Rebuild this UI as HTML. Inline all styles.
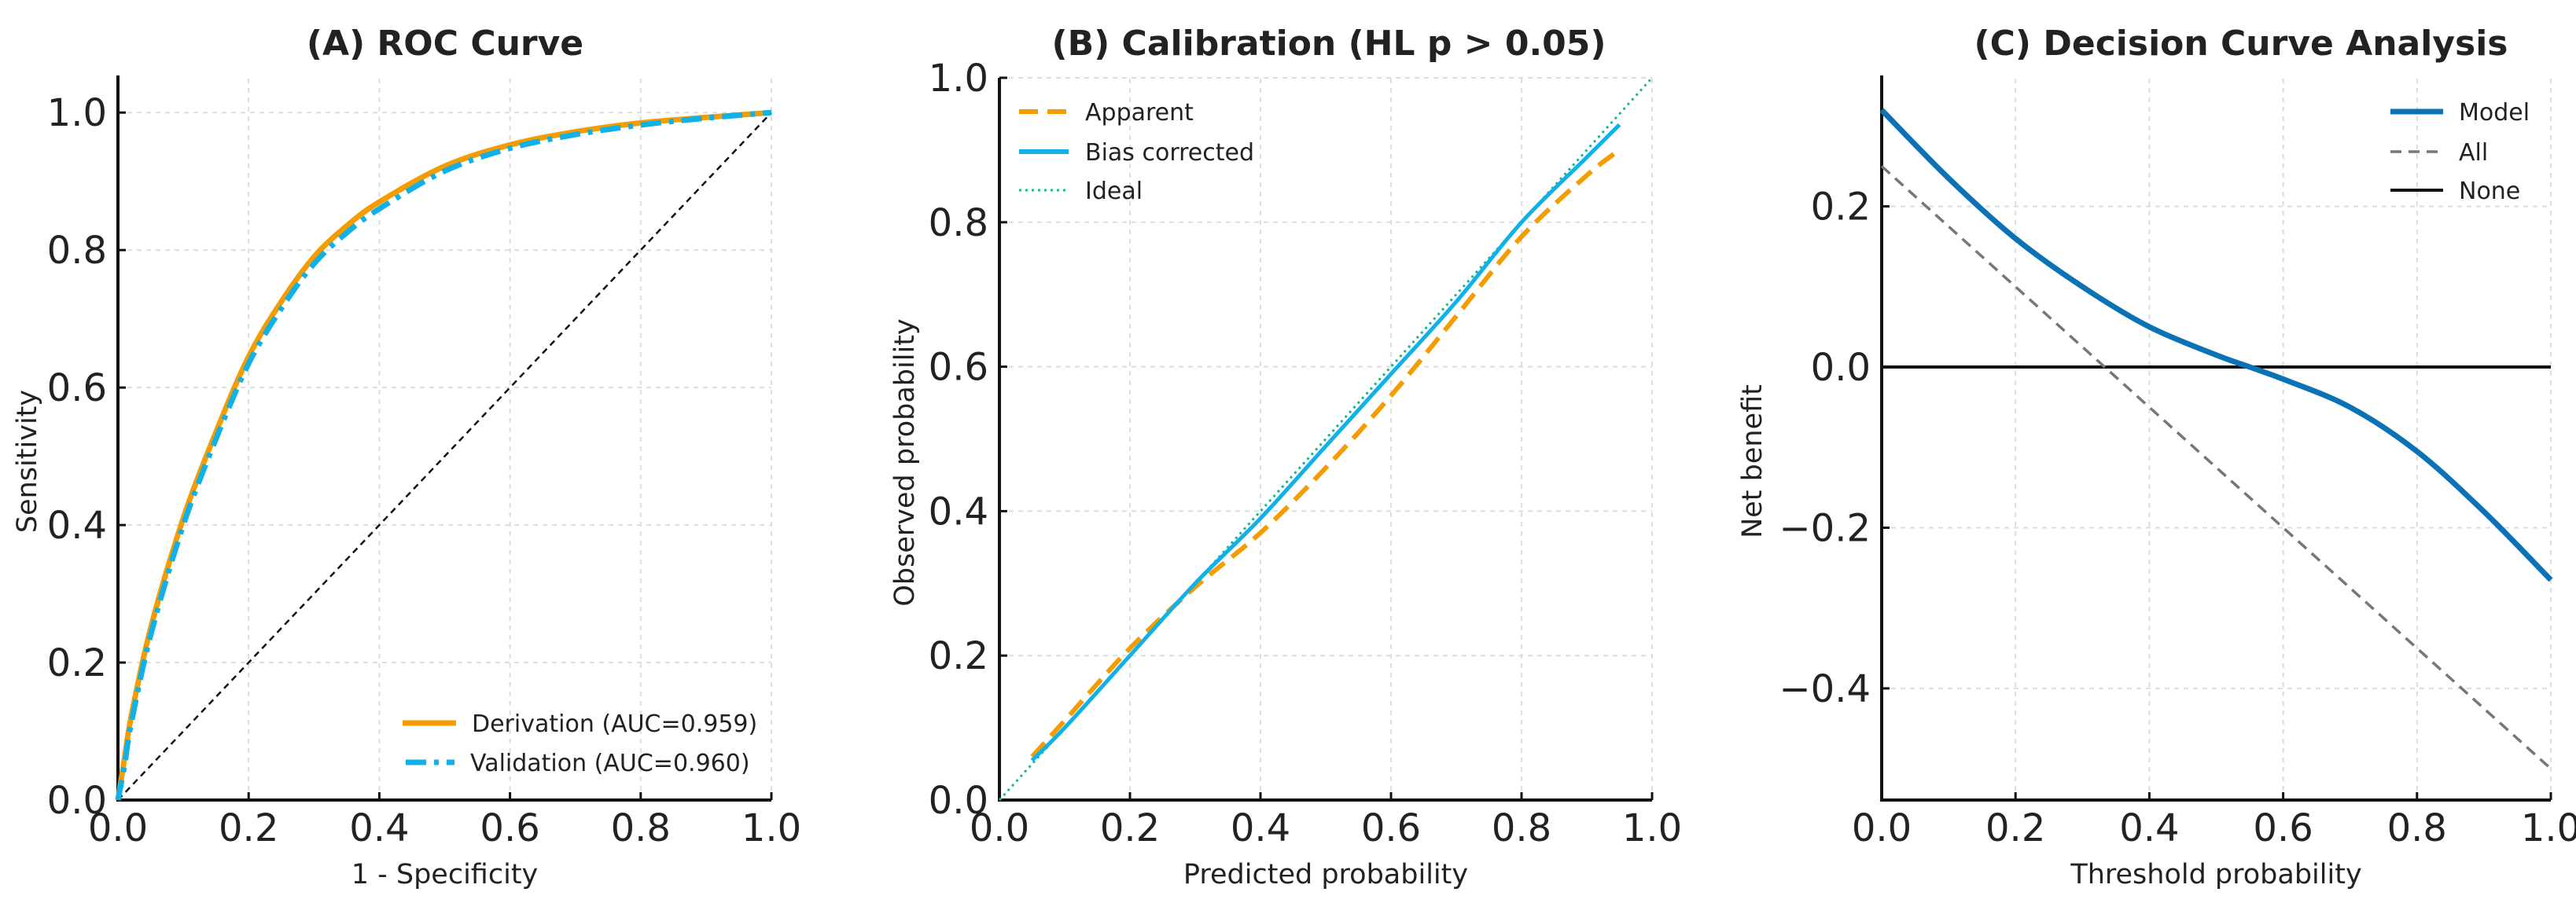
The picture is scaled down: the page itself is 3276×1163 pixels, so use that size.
<!DOCTYPE html>
<html><head><meta charset="utf-8"><style>
body{margin:0;background:#fff}
svg{display:block}
text{font-family:"DejaVu Sans","Liberation Sans",sans-serif;fill:#222}
</style></head><body>
<svg id="fig" width="3276" height="1163" viewBox="0 0 3276 1163"></svg>
<script>
// Panel A data
const rocFpr=[0,0.01,0.02,0.05,0.1,0.15,0.2,0.25,0.3,0.35,0.4,0.5,0.6,0.7,0.8,0.9,1];
const rocDeriv=[0,0.06,0.12,0.25,0.41,0.535,0.645,0.725,0.79,0.835,0.87,0.922,0.953,0.972,0.985,0.993,1];
const rocValid=[0,0.05,0.11,0.24,0.40,0.525,0.635,0.715,0.78,0.825,0.86,0.915,0.948,0.968,0.982,0.992,1];
const rocTicks=["0.0","0.2","0.4","0.6","0.8","1.0"];
// Panel B data
const calX=[0.05,0.1,0.2,0.3,0.4,0.5,0.6,0.7,0.8,0.9,0.95];
const calApparent=[0.06,0.11,0.21,0.295,0.37,0.46,0.56,0.67,0.78,0.865,0.90];
const calCorrected=[0.055,0.1,0.2,0.3,0.39,0.49,0.59,0.69,0.80,0.89,0.935];
// Panel C data
const dcaT=[0,0.1,0.2,0.3,0.4,0.5,0.55,0.6,0.7,0.8,0.9,1];
const dcaModel=[0.32,0.235,0.16,0.10,0.05,0.015,0,-0.015,-0.05,-0.105,-0.18,-0.265];
const dcaAll=[0.25,0.175,0.10,0.025,-0.05,-0.125,-0.1625,-0.20,-0.275,-0.35,-0.425,-0.50];
const dcaYTicks=[-0.4,-0.2,0.0,0.2];
const dcaYLabels=["\u22120.4","\u22120.2","0.0","0.2"];

const NS="http://www.w3.org/2000/svg";
const svg=document.getElementById('fig');
function mk(tag,attrs,parent,name){const e=document.createElementNS(NS,tag);for(const k in attrs)e.setAttribute(k,attrs[k]);


(parent||svg).appendChild(e);return e;}
function txt(s,attrs,name){const e=mk('text',attrs,svg,name);e.textContent=s;return e;}
function path(xs,ys,sx,sy){
  const P=xs.map((x,i)=>[sx(x),sy(ys[i])]);
  let d='M'+P[0][0].toFixed(1)+' '+P[0][1].toFixed(1);
  for(let i=0;i<P.length-1;i++){
    const p0=P[Math.max(i-1,0)],p1=P[i],p2=P[i+1],p3=P[Math.min(i+2,P.length-1)];
    const c1=[p1[0]+(p2[0]-p0[0])/6,p1[1]+(p2[1]-p0[1])/6];
    const c2=[p2[0]-(p3[0]-p1[0])/6,p2[1]-(p3[1]-p1[1])/6];
    d+=` C${c1[0].toFixed(1)} ${c1[1].toFixed(1)} ${c2[0].toFixed(1)} ${c2[1].toFixed(1)} ${p2[0].toFixed(1)} ${p2[1].toFixed(1)}`;
  }
  return d;
}

function axes(cfg){
  const sx=v=>cfg.x0+(v-cfg.xmin)/(cfg.xmax-cfg.xmin)*(cfg.x1-cfg.x0);
  const sy=v=>cfg.y0-(v-cfg.ymin)/(cfg.ymax-cfg.ymin)*(cfg.y0-cfg.y1);
  const gx=[0,0.2,0.4,0.6,0.8,1.0];
  gx.forEach((v,i)=>{
    mk('line',{x1:sx(v),x2:sx(v),y1:cfg.y0,y2:cfg.y1,stroke:'#ddd','stroke-width':2,'stroke-dasharray':'6 6'},svg,cfg.p+'-x-grid');
    mk('line',{x1:sx(v),x2:sx(v),y1:cfg.y0,y2:cfg.y0-10,stroke:'#111','stroke-width':3},svg,cfg.p+'-x-tick');
    txt(rocTicks[i],{x:sx(v),y:cfg.y0+52,'font-size':48,'text-anchor':'middle'},cfg.p+'-x-tick-label');
  });
  cfg.yt.forEach((v,i)=>{
    mk('line',{x1:cfg.x0,x2:cfg.x1,y1:sy(v),y2:sy(v),stroke:'#ddd','stroke-width':2,'stroke-dasharray':'6 6'},svg,cfg.p+'-y-grid');
    mk('line',{x1:cfg.x0,x2:cfg.x0+10,y1:sy(v),y2:sy(v),stroke:'#111','stroke-width':3},svg,cfg.p+'-y-tick');
    txt(cfg.yl[i],{x:cfg.x0-14,y:sy(v)+17,'font-size':48,'text-anchor':'end'},cfg.p+'-y-tick-label');
  });
  mk('line',{x1:cfg.x0,x2:cfg.x0,y1:cfg.y0+2,y2:cfg.y1,stroke:'#111','stroke-width':4},svg,cfg.p+'-y-axis');
  mk('line',{x1:cfg.x0-2,x2:cfg.x1,y1:cfg.y0,y2:cfg.y0,stroke:'#111','stroke-width':4},svg,cfg.p+'-x-axis');
  txt(cfg.title,{x:cfg.tx,y:70,'font-size':44,'font-weight':'bold','text-anchor':'middle'},cfg.p+'-title');
  txt(cfg.xlabel,{x:(cfg.x0+cfg.x1)/2,y:1124,'font-size':35,'text-anchor':'middle'},cfg.p+'-x-axis-title');
  txt(cfg.ylabel,{x:0,y:0,'font-size':35,'text-anchor':'middle',transform:`translate(${cfg.ylx},${(cfg.y0+cfg.y1)/2+30}) rotate(-90)`},cfg.p+'-y-axis-title');
  return {sx,sy};
}
const yt01=[0,0.2,0.4,0.6,0.8,1.0];
// Panel A
let A=axes({p:'roc',x0:150,x1:981,y0:1018,y1:96,xmin:0,xmax:1,ymin:0,ymax:1.054,yt:yt01,yl:rocTicks,title:'(A) ROC Curve',tx:566,xlabel:'1 - Specificity',ylabel:'Sensitivity',ylx:46});
mk('path',{d:`M${A.sx(0)} ${A.sy(0)} L${A.sx(1)} ${A.sy(1)}`,stroke:'#111','stroke-width':2.5,'stroke-dasharray':'8 6',fill:'none'},svg,'roc-chance-line');
mk('path',{d:path(rocFpr,rocDeriv,A.sx,A.sy),stroke:'#f59d00','stroke-width':7,fill:'none','stroke-linejoin':'round'},svg,'roc-derivation-line');
mk('path',{d:path(rocFpr,rocValid,A.sx,A.sy),stroke:'#10b0e8','stroke-width':7,fill:'none','stroke-dasharray':'26 10 6 10'},svg,'roc-validation-line');
mk('line',{x1:512,x2:580,y1:920,y2:920,stroke:'#f59d00','stroke-width':7},svg,'legend-derivation-swatch');
txt('Derivation (AUC=0.959)',{x:600,y:931,'font-size':30},'legend-derivation-label');
mk('line',{x1:516,x2:578,y1:970,y2:970,stroke:'#10b0e8','stroke-width':7,'stroke-dasharray':'26 10 6 10'},svg,'legend-validation-swatch');
txt('Validation (AUC=0.960)',{x:598,y:981,'font-size':30},'legend-validation-label');
// Panel B
let B=axes({p:'cal',x0:1271,x1:2101,y0:1018,y1:99,xmin:0,xmax:1,ymin:0,ymax:1,yt:yt01,yl:rocTicks,title:'(B) Calibration (HL p > 0.05)',tx:1690,xlabel:'Predicted probability',ylabel:'Observed probability',ylx:1162});
mk('path',{d:`M${B.sx(0)} ${B.sy(0)} L${B.sx(1)} ${B.sy(1)}`,stroke:'#17b890','stroke-width':3,'stroke-dasharray':'3 5',fill:'none'},svg,'cal-ideal-line');
mk('path',{d:path(calX,calApparent,B.sx,B.sy),stroke:'#f59d00','stroke-width':6,fill:'none','stroke-dasharray':'24 12'},svg,'cal-apparent-line');
mk('path',{d:path(calX,calCorrected,B.sx,B.sy),stroke:'#10b0e8','stroke-width':5,fill:'none'},svg,'cal-bias-corrected-line');
mk('line',{x1:1296,x2:1359,y1:142,y2:142,stroke:'#f59d00','stroke-width':6,'stroke-dasharray':'24 12'},svg,'legend-apparent-swatch');
txt('Apparent',{x:1380,y:153,'font-size':30},'legend-apparent-label');
mk('line',{x1:1296,x2:1359,y1:193,y2:193,stroke:'#10b0e8','stroke-width':6},svg,'legend-bias-swatch');
txt('Bias corrected',{x:1380,y:204,'font-size':30},'legend-bias-label');
mk('line',{x1:1296,x2:1359,y1:242,y2:242,stroke:'#17b890','stroke-width':3,'stroke-dasharray':'3 5'},svg,'legend-ideal-swatch');
txt('Ideal',{x:1380,y:253,'font-size':30},'legend-ideal-label');
// Panel C
let C=axes({p:'dca',x0:2393,x1:3244,y0:1018,y1:96,xmin:0,xmax:1,ymin:-0.539,ymax:0.363,yt:dcaYTicks,yl:dcaYLabels,title:'(C) Decision Curve Analysis',tx:2850,xlabel:'Threshold probability',ylabel:'Net benefit',ylx:2240});
mk('path',{d:`M${C.sx(0)} ${C.sy(0)} L${C.sx(1)} ${C.sy(0)}`,stroke:'#111','stroke-width':4,fill:'none'},svg,'dca-none-line');
mk('path',{d:path(dcaT,dcaAll,C.sx,C.sy),stroke:'#777','stroke-width':3.5,'stroke-dasharray':'14 9',fill:'none'},svg,'dca-all-line');
mk('path',{d:path(dcaT,dcaModel,C.sx,C.sy),stroke:'#0a72b5','stroke-width':7,fill:'none','stroke-linejoin':'round'},svg,'dca-model-line');
mk('line',{x1:3040,x2:3107,y1:142,y2:142,stroke:'#0a72b5','stroke-width':7},svg,'legend-model-swatch');
txt('Model',{x:3127,y:153,'font-size':30},'legend-model-label');
mk('line',{x1:3040,x2:3107,y1:193,y2:193,stroke:'#777','stroke-width':3.5,'stroke-dasharray':'14 9'},svg,'legend-all-swatch');
txt('All',{x:3127,y:204,'font-size':30},'legend-all-label');
mk('line',{x1:3040,x2:3107,y1:242,y2:242,stroke:'#111','stroke-width':4},svg,'legend-none-swatch');
txt('None',{x:3127,y:253,'font-size':30},'legend-none-label');
</script>
</body></html>
